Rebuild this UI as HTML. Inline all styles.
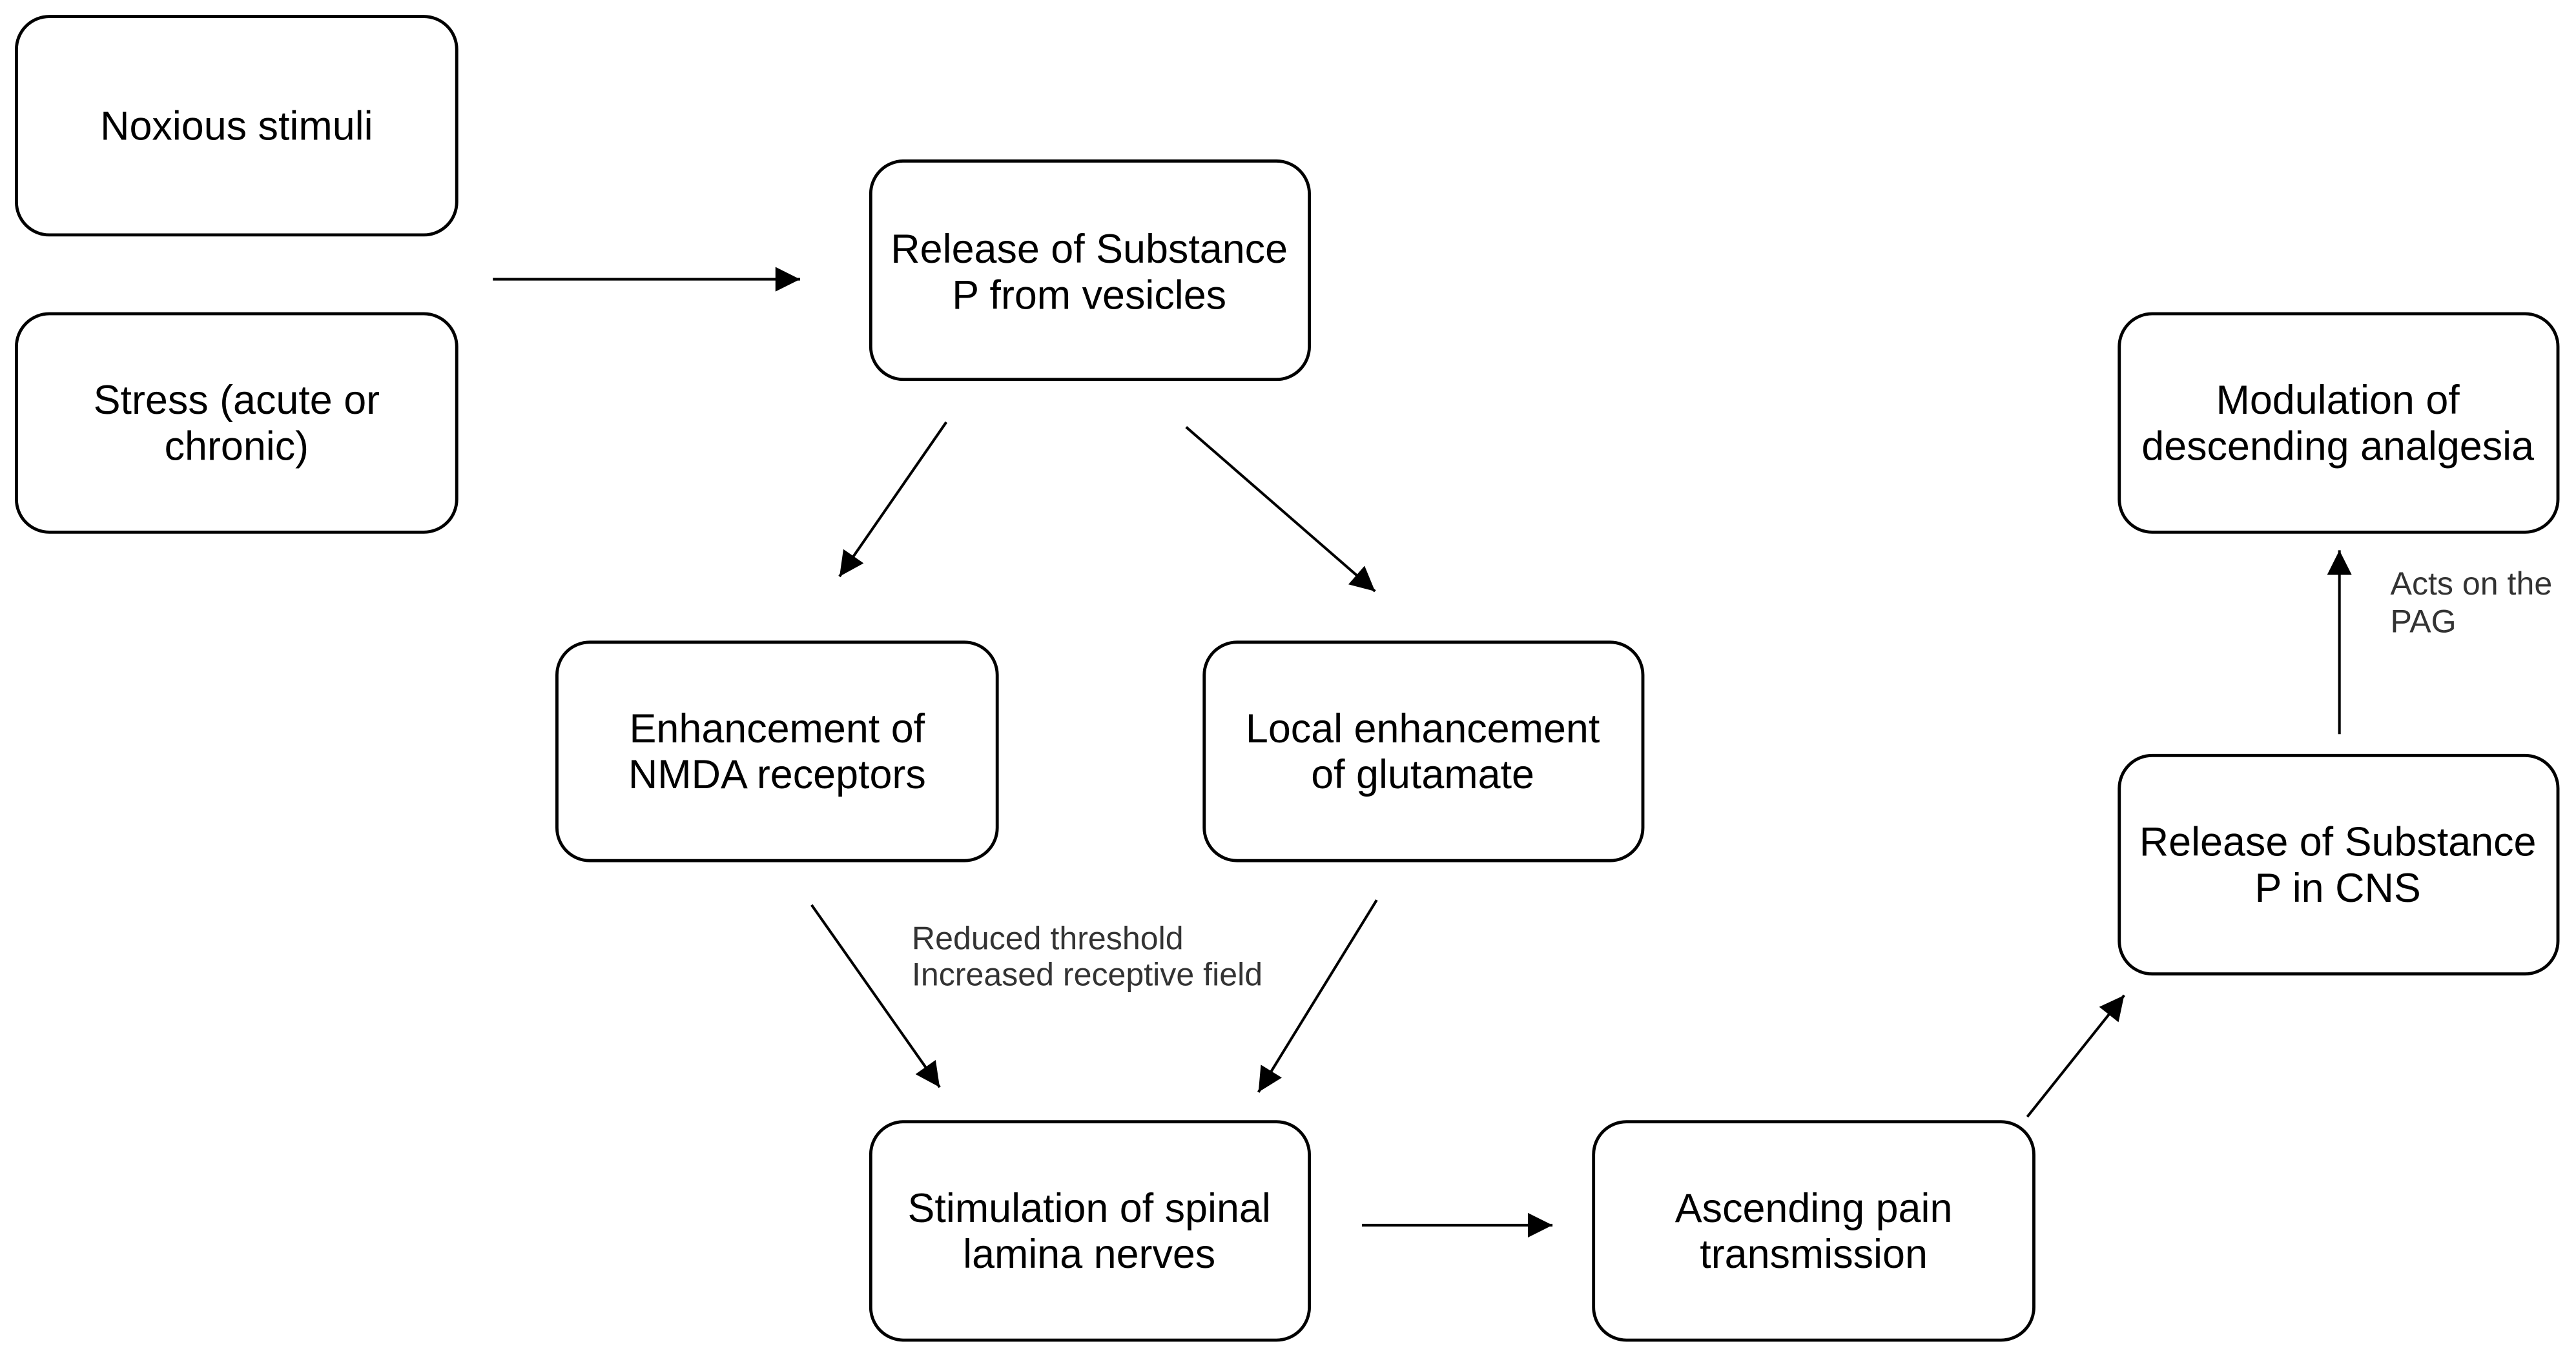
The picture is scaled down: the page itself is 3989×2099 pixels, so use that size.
<!DOCTYPE html>
<html><head><meta charset="utf-8"><style>
html,body{margin:0;padding:0;background:#fff;}
svg{display:block;}
text{font-family:"Liberation Sans",Arial,sans-serif;}
</style></head><body>
<svg width="3989" height="2099" viewBox="0 0 1568 825" xmlns="http://www.w3.org/2000/svg">
<defs>
<marker id="b" viewBox="0 0 10 10" refX="10" refY="5" markerWidth="19" markerHeight="15" markerUnits="userSpaceOnUse" orient="auto">
<path d="M0,0 L10,5 L0,10 z" fill="#000"/>
</marker>
</defs>
<g fill="#fff" stroke="#000" stroke-width="1.9">
<rect x="10" y="10" width="268" height="133" rx="20"/>
<rect x="10" y="191" width="268" height="133" rx="20"/>
<rect x="530" y="98" width="267" height="133" rx="20"/>
<rect x="1290" y="191" width="267" height="133" rx="20"/>
<rect x="339" y="391" width="268" height="133" rx="20"/>
<rect x="733" y="391" width="267" height="133" rx="20"/>
<rect x="1290" y="460" width="267" height="133" rx="20"/>
<rect x="530" y="683" width="267" height="133" rx="20"/>
<rect x="970" y="683" width="268" height="133" rx="20"/>
</g>
<g stroke="#000" stroke-width="1.6" fill="none" marker-end="url(#b)">
<line x1="300" y1="170" x2="487" y2="170"/>
<line x1="576" y1="257" x2="511" y2="351"/>
<line x1="722" y1="260" x2="837" y2="360"/>
<line x1="1424" y1="447" x2="1424" y2="335"/>
<line x1="494" y1="551" x2="572" y2="662"/>
<line x1="838" y1="548" x2="766" y2="665"/>
<line x1="829" y1="746" x2="945" y2="746"/>
<line x1="1234" y1="680" x2="1293" y2="606"/>
</g>
<g font-size="24.7" fill="#000" text-anchor="middle">
<text x="144" y="85">Noxious stimuli</text>
<text x="144" y="252">Stress (acute or</text>
<text x="144" y="280">chronic)</text>
<text x="663" y="160">Release of Substance</text>
<text x="663" y="188">P from vesicles</text>
<text x="1423" y="252">Modulation of</text>
<text x="1423" y="280">descending analgesia</text>
<text x="473" y="452">Enhancement of</text>
<text x="473" y="480">NMDA receptors</text>
<text x="866" y="452">Local enhancement</text>
<text x="866" y="480">of glutamate</text>
<text x="1423" y="521">Release of Substance</text>
<text x="1423" y="549">P in CNS</text>
<text x="663" y="744">Stimulation of spinal</text>
<text x="663" y="772">lamina nerves</text>
<text x="1104" y="744">Ascending pain</text>
<text x="1104" y="772">transmission</text>
</g>
<g font-size="19.7" fill="#333">
<text x="555" y="578">Reduced threshold</text>
<text x="555" y="600">Increased receptive field</text>
<text x="1455" y="362">Acts on the</text>
<text x="1455" y="385">PAG</text>
</g>
</svg>
</body></html>
